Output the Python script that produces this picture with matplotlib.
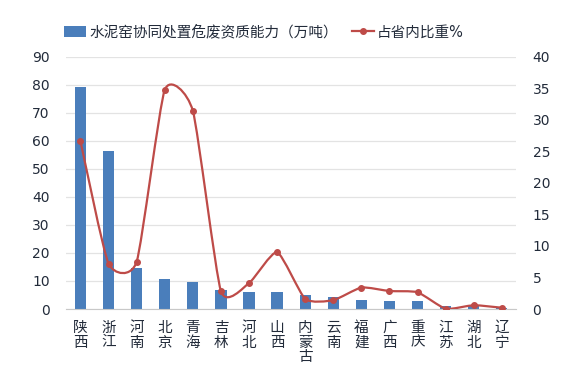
import numpy as np
import matplotlib.pyplot as plt
from matplotlib.path import Path
from matplotlib.patches import PathPatch
from matplotlib.lines import Line2D
from matplotlib.patches import Patch

plt.rcParams['font.family'] = ['DejaVu Sans', 'Noto Sans CJK SC']

# data
provinces = ['陕西', '浙江', '河南', '北京', '青海', '吉林', '河北', '山西',
             '内蒙古', '云南', '福建', '广西', '重庆', '江苏', '湖北', '辽宁']
capacity = [79.0, 56.2, 14.5, 10.7, 9.7, 6.8, 5.9, 5.9,
            4.9, 4.2, 3.2, 2.7, 2.7, 1.1, 1.3, 0.3]  # 万吨
share = [26.6, 7.2, 7.5, 34.7, 31.4, 2.85, 4.1, 9.0,
         1.6, 1.4, 3.4, 2.85, 2.65, 0.05, 0.6, 0.2]  # %

bar_label = '水泥窑协同处置危废资质能力（万吨）'
line_label = '占省内比重%'

bar_color = '#4a7ebb'
line_color = '#be4b48'
text_color = '#222b3a'


def smooth_path(xs, ys, k=0.095):
    # smoothed line like excel: cubic bezier through the points
    pts = np.column_stack([xs, ys])
    ext = np.vstack([pts[0], pts, pts[-1]])
    verts = [tuple(pts[0])]
    codes = [Path.MOVETO]
    for i in range(len(pts) - 1):
        p0, p1, p2, p3 = ext[i], ext[i + 1], ext[i + 2], ext[i + 3]
        c1 = p1 + (p2 - p0) * k
        c2 = p2 - (p3 - p1) * k
        verts += [tuple(c1), tuple(c2), tuple(p2)]
        codes += [Path.CURVE4] * 3
    return Path(verts, codes)


fig = plt.figure(figsize=(5.8, 3.67), dpi=100)
ax = fig.add_axes([0.1145, 0.158, 0.775, 0.688])
ax2 = ax.twinx()

x = np.arange(len(provinces))
ax.bar(x, capacity, width=0.4, color=bar_color, zorder=2)

ax.set_ylim(0, 90)
ax.set_yticks(np.arange(0, 91, 10))
ax.set_xlim(-0.5, len(provinces) - 0.5)
ax.set_xticks(x)
ax.set_xticklabels(['\n'.join(p) for p in provinces], linespacing=0.95,
                   fontsize=10.5)
ax.grid(axis='y', color='#e3e3e3', linewidth=0.9, zorder=0)
ax.set_axisbelow(True)

ax2.set_ylim(0, 40)
ax2.set_yticks(np.arange(0, 41, 5))
ax2.add_patch(PathPatch(smooth_path(x, share), facecolor='none',
                        edgecolor=line_color, linewidth=1.6, zorder=3))
ax2.plot(x, share, 'o', color=line_color, markersize=4, zorder=4)

for a in (ax, ax2):
    for s in a.spines.values():
        s.set_visible(False)
    a.tick_params(length=0, colors=text_color)
    a.tick_params(axis='y', labelsize=10)
ax.spines['bottom'].set_visible(True)
ax.spines['bottom'].set_color('#c8c8c8')
ax.tick_params(axis='y', pad=12)
ax.tick_params(axis='x', pad=8)
ax2.tick_params(axis='y', pad=12)

handles = [Patch(facecolor=bar_color, edgecolor='none'),
           Line2D([], [], color=line_color, linewidth=1.6, marker='o', markersize=4)]
fig.legend(handles, [bar_label, line_label], loc='center',
           bbox_to_anchor=(264 / 580, 1 - 32 / 367), ncol=2, frameon=False,
           fontsize=10.5, handlelength=1.5, handletextpad=0.2, columnspacing=1.0,
           labelcolor=text_color)

fig.savefig('out.png', dpi=100)
